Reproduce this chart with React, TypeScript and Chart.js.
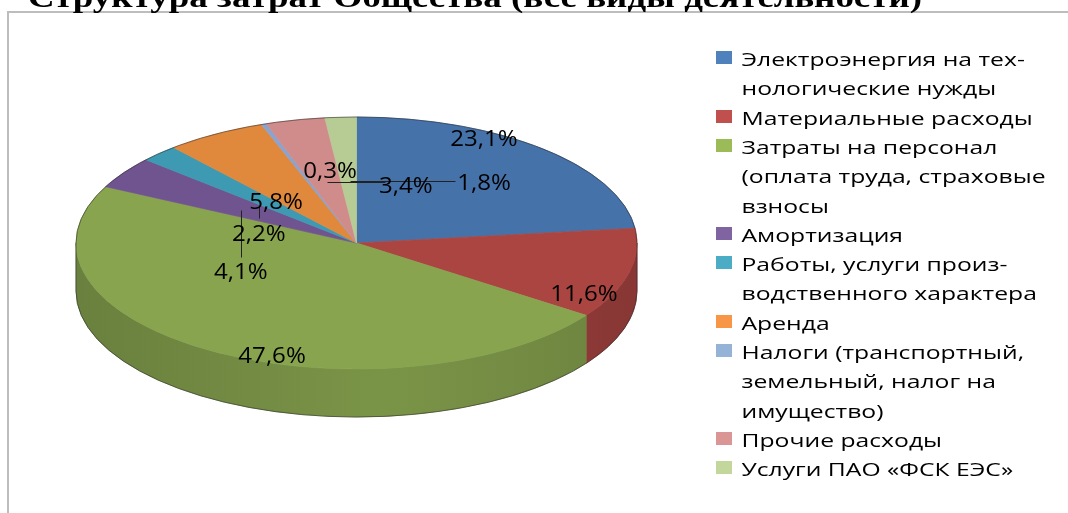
import { useEffect, useRef } from "react";
import { Chart, registerables } from "chart.js";

Chart.register(...registerables);

const chartTitle = "Структура затрат Общества (все виды деятельности)";

const categories = [
  "Электроэнергия на тех-\nнологические нужды",
  "Материальные расходы",
  "Затраты на персонал\n(оплата труда, страховые\nвзносы",
  "Амортизация",
  "Работы, услуги произ-\nводственного характера",
  "Аренда",
  "Налоги (транспортный,\nземельный, налог на\nимущество)",
  "Прочие расходы",
  "Услуги ПАО «ФСК ЕЭС»",
];

const shares = [23.1, 11.6, 47.6, 4.1, 2.2, 5.8, 0.3, 3.4, 1.8];

const legendColors = ["#4F81BD", "#C0504D", "#9BBB59", "#8064A2", "#4BACC6", "#F79646", "#95B3D7", "#D99694", "#C3D69B"];
const sliceColors = ["#4672AA", "#AA4542", "#88A44F", "#70548F", "#3D9AB2", "#E0883C", "#8AA3CF", "#D08C8B", "#B7CB95"];

// label anchor positions, in units of the horizontal / vertical radius from the pie centre
const labelAnchors: [number, number][] = [
  [0.4545, -0.829],
  [0.811, 0.401],
  [-0.301, 0.893],
  [-0.412, 0.222],
  [-0.348, -0.075],
  [-0.287, -0.333],
  [-0.0945, -0.579],
  [0.176, -0.46],
  [0.4545, -0.484],
];

const leaderLines: [number, number, number, number][] = [
  [-0.105, -0.484, 0.1016, -0.484],
  [-0.0232, -0.492, 0.351, -0.492],
  [-0.349, -0.294, -0.349, -0.198],
  [-0.412, -0.262, -0.412, 0.111],
];

const SQUASH = 126 / 280.5;
const DEPTH_RATIO = 48 / 126;

function shade(hex: string, f: number) {
  const n = parseInt(hex.slice(1), 16);
  const r = Math.round(((n >> 16) & 255) * f);
  const g = Math.round(((n >> 8) & 255) * f);
  const b = Math.round((n & 255) * f);
  return `rgb(${r},${g},${b})`;
}

function stretchedText(ctx: CanvasRenderingContext2D, text: string, x: number, y: number, align: CanvasTextAlign, sx: number) {
  ctx.save();
  ctx.translate(x, y);
  ctx.scale(sx, 1);
  ctx.textAlign = align;
  ctx.textBaseline = "alphabetic";
  ctx.fillText(text, 0, 0);
  ctx.restore();
}

function geometry(chart: any) {
  const arcs = chart.getDatasetMeta(0).data;
  const p = arcs[0].getProps(["x", "y", "outerRadius"], true);
  const rx = p.outerRadius;
  const ry = rx * SQUASH;
  return { arcs, cx: p.x, cy: p.y, rx, ry, depth: ry * DEPTH_RATIO };
}

const pie3dPlugin = {
  id: "pie3d",
  beforeDraw(chart: any) {
    const ctx = chart.ctx as CanvasRenderingContext2D;
    ctx.save();
    ctx.fillStyle = "#fff";
    ctx.fillRect(0, 0, chart.width, chart.height);
    ctx.strokeStyle = "#BDBDBD";
    ctx.lineWidth = 2;
    ctx.beginPath();
    ctx.moveTo(8, chart.height + 10);
    ctx.lineTo(8, 12);
    ctx.lineTo(chart.width + 10, 12);
    ctx.stroke();
    ctx.restore();
  },
  beforeDatasetsDraw(chart: any) {
    const ctx = chart.ctx as CanvasRenderingContext2D;
    const { arcs, cx, cy, rx, ry, depth } = geometry(chart);
    arcs.forEach((arc: any, i: number) => {
      const { startAngle, endAngle } = arc.getProps(["startAngle", "endAngle"], true);
      const a1 = Math.max(startAngle, 0);
      const a2 = Math.min(endAngle, Math.PI);
      if (a2 <= a1) return;
      const g = ctx.createLinearGradient(cx - rx, 0, cx + rx, 0);
      g.addColorStop(0, shade(sliceColors[i], 0.78));
      g.addColorStop(0.55, shade(sliceColors[i], 0.9));
      g.addColorStop(1, shade(sliceColors[i], 0.8));
      ctx.save();
      ctx.fillStyle = g;
      ctx.strokeStyle = g;
      ctx.lineWidth = 0.8;
      ctx.beginPath();
      ctx.ellipse(cx, cy, rx, ry, 0, a1, a2);
      ctx.ellipse(cx, cy + depth, rx, ry, 0, a2, a1, true);
      ctx.closePath();
      ctx.fill();
      ctx.stroke();
      ctx.restore();
    });
    ctx.save();
    ctx.translate(cx, cy);
    ctx.scale(1, SQUASH);
    ctx.translate(-cx, -cy);
  },
  afterDatasetsDraw(chart: any) {
    const ctx = chart.ctx as CanvasRenderingContext2D;
    ctx.restore();
    const { cx, cy, rx, ry, depth } = geometry(chart);

    // silhouette
    ctx.save();
    ctx.strokeStyle = "rgba(40,40,40,0.55)";
    ctx.lineWidth = 1;
    ctx.beginPath();
    ctx.ellipse(cx, cy, rx, ry, 0, Math.PI, 2 * Math.PI);
    ctx.lineTo(cx + rx, cy + depth);
    ctx.ellipse(cx, cy + depth, rx, ry, 0, 0, Math.PI);
    ctx.closePath();
    ctx.stroke();
    ctx.restore();

    // leader lines
    ctx.save();
    ctx.strokeStyle = "#222";
    ctx.lineWidth = 1;
    leaderLines.forEach(([x1, y1, x2, y2]) => {
      ctx.beginPath();
      ctx.moveTo(Math.round(cx + x1 * rx) + 0.5, Math.round(cy + y1 * ry) + 0.5);
      ctx.lineTo(Math.round(cx + x2 * rx) + 0.5, Math.round(cy + y2 * ry) + 0.5);
      ctx.stroke();
    });
    ctx.restore();

    // data labels
    ctx.save();
    ctx.fillStyle = "#000";
    ctx.font = '21.5px "Open Sans"';
    shares.forEach((v, i) => {
      const [fx, fy] = labelAnchors[i];
      const text = v.toFixed(1).replace(".", ",") + "%";
      stretchedText(ctx, text, cx + fx * rx, cy + fy * ry + 7.7, "center", 1.12);
    });
    ctx.restore();
  },
  afterDraw(chart: any) {
    const ctx = chart.ctx as CanvasRenderingContext2D;
    // title (cut at the top edge, as in the source)
    ctx.save();
    ctx.fillStyle = "#000";
    ctx.font = 'bold 30px "Liberation Serif"';
    const w = ctx.measureText(chartTitle).width;
    stretchedText(ctx, chartTitle, 28, 7, "left", 894 / w);
    ctx.restore();

    // legend
    ctx.save();
    ctx.font = '19px "Open Sans"';
    let line = 0;
    const base = 66;
    const step = 29.3;
    categories.forEach((label, i) => {
      const rows = label.split("\n");
      const y0 = base + line * step;
      ctx.fillStyle = legendColors[i];
      ctx.fillRect(716, Math.round(y0 - 15), 16, 13);
      ctx.fillStyle = "#000";
      rows.forEach((r, k) => {
        stretchedText(ctx, r, 741.5, base + (line + k) * step, "left", 1.3);
      });
      line += rows.length;
    });
    ctx.restore();
  },
};

export default function App() {
  const ref = useRef<HTMLCanvasElement>(null);
  useEffect(() => {
    const chart = new Chart(ref.current as HTMLCanvasElement, {
      type: "pie",
      data: {
        labels: categories,
        datasets: [
          {
            data: shares,
            backgroundColor: sliceColors,
            borderColor: sliceColors,
            borderWidth: 1,
            hoverOffset: 0,
            radius: 280.5,
            clip: false,
          } as any,
        ],
      },
      options: {
        responsive: false,
        animation: false,
        devicePixelRatio: 1,
        events: [],
        layout: { padding: { left: 0, right: 355, top: 0, bottom: 27 } },
        plugins: {
          legend: { display: false },
          tooltip: { enabled: false },
          title: { display: false },
        },
      },
      plugins: [pie3dPlugin],
    });
    return () => chart.destroy();
  }, []);
  return (
    <div style={{ position: "fixed", left: 0, top: 0, width: 1068, height: 513, background: "#fff" }}>
      <canvas ref={ref} width={1068} height={513} style={{ display: "block" }} />
    </div>
  );
}
